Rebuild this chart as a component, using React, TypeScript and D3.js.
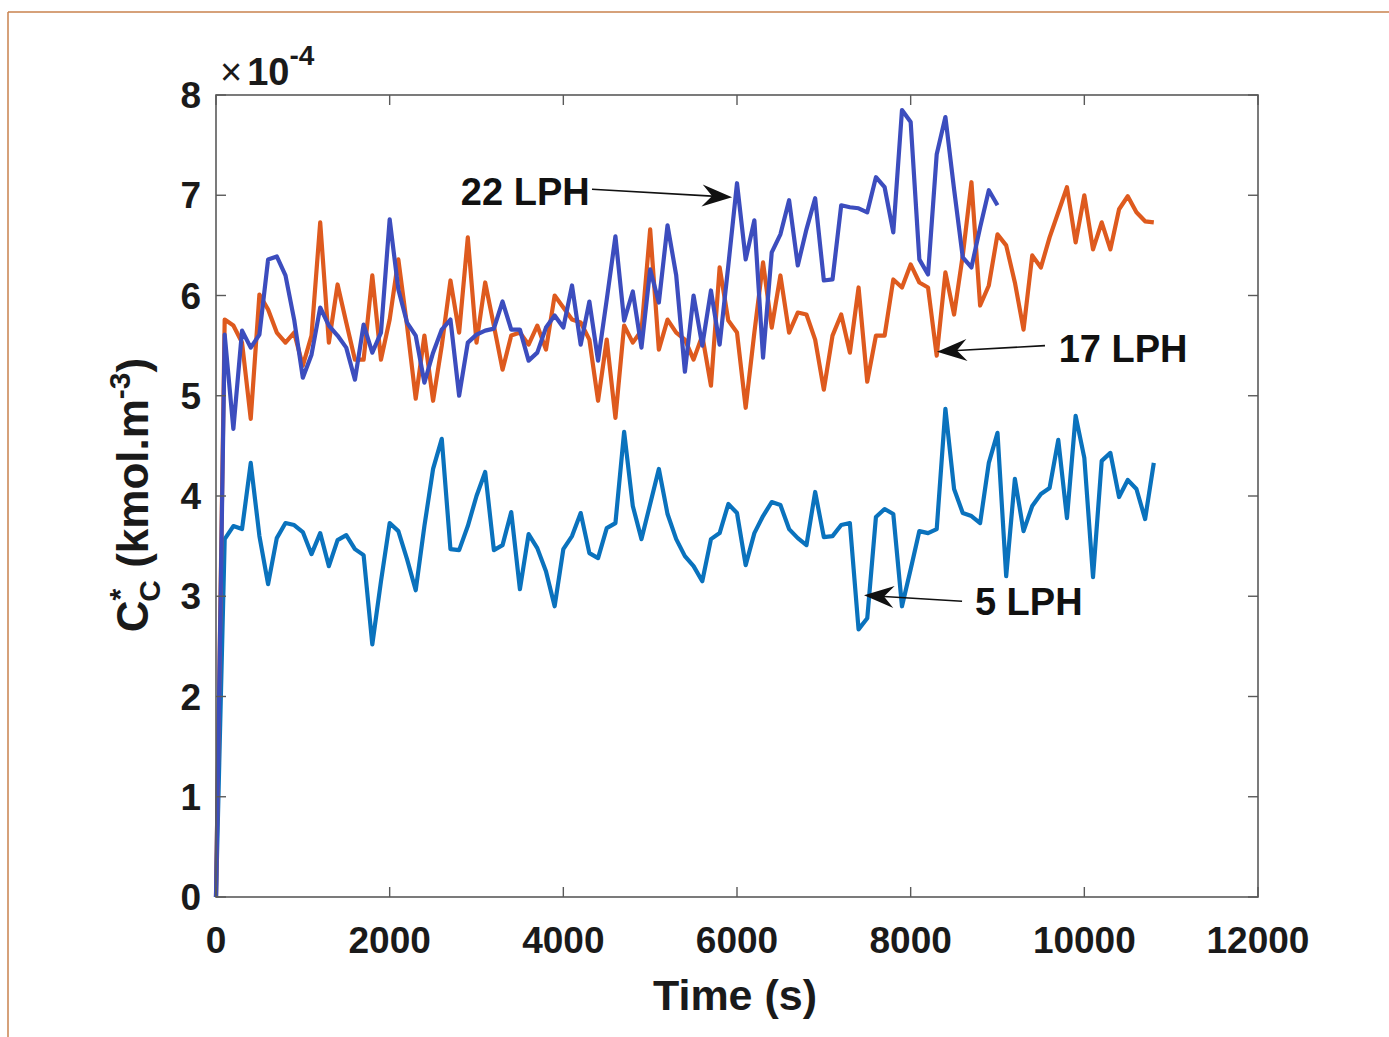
import React from "react";
import * as d3 from "d3";

// ---- data ----
const TIME_STEP = 100; // s between samples
const xTicks = [0, 2000, 4000, 6000, 8000, 10000, 12000];
const yTicks = [0, 1, 2, 3, 4, 5, 6, 7, 8];

// values in units of 1e-4 kmol.m^-3
const lph5 = [
  0, 3.57, 3.70, 3.67, 4.33, 3.60, 3.12, 3.58, 3.73, 3.71,
  3.64, 3.42, 3.63, 3.30, 3.56, 3.61, 3.47, 3.41, 2.52, 3.15,
  3.73, 3.65, 3.37, 3.06, 3.70, 4.27, 4.57, 3.47, 3.46, 3.70,
  4.00, 4.24, 3.46, 3.51, 3.84, 3.07, 3.62, 3.48, 3.25, 2.90,
  3.47, 3.60, 3.83, 3.43, 3.38, 3.68, 3.73, 4.64, 3.90, 3.57,
  3.92, 4.27, 3.82, 3.57, 3.40, 3.30, 3.15, 3.57, 3.63, 3.92,
  3.83, 3.31, 3.63, 3.80, 3.94, 3.91, 3.67, 3.58, 3.51, 4.04,
  3.59, 3.60, 3.71, 3.73, 2.67, 2.78, 3.79, 3.87, 3.82, 2.90,
  3.27, 3.65, 3.63, 3.67, 4.87, 4.07, 3.83, 3.80, 3.73, 4.33,
  4.63, 3.20, 4.17, 3.65, 3.90, 4.02, 4.08, 4.56, 3.78, 4.80,
  4.38, 3.19, 4.35, 4.43, 3.99, 4.16, 4.07, 3.77, 4.33,
];

const lph17 = [
  0, 5.76, 5.70, 5.53, 4.77, 6.01, 5.86, 5.63, 5.53, 5.63,
  5.30, 5.60, 6.73, 5.53, 6.11, 5.73, 5.36, 5.36, 6.20, 5.36,
  5.76, 6.36, 5.70, 4.97, 5.60, 4.95, 5.50, 6.15, 5.63, 6.58,
  5.53, 6.13, 5.70, 5.26, 5.60, 5.63, 5.51, 5.70, 5.46, 6.00,
  5.88, 5.76, 5.73, 5.56, 4.95, 5.56, 4.78, 5.70, 5.53, 5.65,
  6.66, 5.46, 5.76, 5.63, 5.56, 5.36, 5.60, 5.10, 6.28, 5.75,
  5.63, 4.88, 5.63, 6.33, 5.68, 6.20, 5.63, 5.83, 5.81, 5.56,
  5.06, 5.60, 5.81, 5.43, 6.08, 5.14, 5.60, 5.60, 6.16, 6.08,
  6.31, 6.13, 6.08, 5.40, 6.23, 5.81, 6.40, 7.13, 5.90, 6.10,
  6.61, 6.50, 6.13, 5.66, 6.40, 6.28, 6.58, 6.83, 7.08, 6.53,
  7.00, 6.46, 6.73, 6.46, 6.86, 6.99, 6.83, 6.74, 6.73,
];

const lph22 = [
  0, 5.61, 4.67, 5.65, 5.48, 5.61, 6.36, 6.39, 6.20, 5.76,
  5.18, 5.41, 5.88, 5.70, 5.60, 5.48, 5.16, 5.71, 5.43, 5.63,
  6.76, 6.06, 5.73, 5.60, 5.13, 5.43, 5.66, 5.76, 5.00, 5.53,
  5.61, 5.65, 5.67, 5.94, 5.66, 5.66, 5.35, 5.43, 5.68, 5.80,
  5.68, 6.10, 5.51, 5.94, 5.35, 5.96, 6.59, 5.75, 6.04, 5.48,
  6.26, 5.93, 6.70, 6.20, 5.24, 6.00, 5.50, 6.05, 5.51, 6.30,
  7.12, 6.36, 6.75, 5.38, 6.43, 6.61, 6.95, 6.30, 6.66, 6.97,
  6.15, 6.16, 6.90, 6.88, 6.87, 6.83, 7.18, 7.08, 6.63, 7.85,
  7.73, 6.36, 6.21, 7.41, 7.78, 7.06, 6.38, 6.28, 6.68, 7.05,
  6.90,
];

const seriesNames = ["5 LPH", "17 LPH", "22 LPH"];
const seriesColors = ["#0A72BD", "#DE5A1E", "#3C4DBE"];

// annotations: label, text anchor (t, value), arrow tail, arrow tip (data coords)
const annLabels = ["22 LPH", "17 LPH", "5 LPH"];
const annText = [[2820, 6.90], [9705, 5.34], [8740, 2.81]];
const annTail = [[4330, 7.06], [9547, 5.50], [8592, 2.95]];
const annTip = [[5943, 6.98], [8303, 5.44], [7463, 3.01]];

const W = 1389;
const H = 1037;
const M = { left: 216, right: 1258, top: 95, bottom: 897 };
const FONT = "'Liberation Sans', Arial, Helvetica, sans-serif";

export default function App() {
  const x = d3.scaleLinear().domain([0, 12000]).range([M.left, M.right]);
  const y = d3.scaleLinear().domain([0, 8]).range([M.bottom, M.top]);
  const line = d3
    .line<number>()
    .x((_, i) => x(i * TIME_STEP))
    .y((d) => y(d));
  const allSeries = [lph5, lph17, lph22];
  const tickLen = 10;
  const axisColor = "#5a5a5a";

  const arrowHead = (tail: number[], tip: number[]) => {
    const x1 = x(tail[0]), y1 = y(tail[1]);
    const x2 = x(tip[0]), y2 = y(tip[1]);
    const ang = Math.atan2(y2 - y1, x2 - x1);
    const L = 30, Wd = 11, notch = 20;
    const ca = Math.cos(ang), sa = Math.sin(ang);
    const p = (a: number, b: number) => [x2 + a * ca - b * sa, y2 + a * sa + b * ca];
    const pts = [p(0, 0), p(-L, -Wd), p(-notch, 0), p(-L, Wd)];
    return {
      line: [x1, y1, x2 - notch * ca, y2 - notch * sa],
      head: pts.map((q) => q.join(",")).join(" "),
    };
  };

  return (
    <svg
      width={W}
      height={H}
      style={{ position: "absolute", left: 0, top: 0, background: "#fff" }}
      fontFamily={FONT}
    >
      {/* outer frame */}
      <line x1={8} y1={12} x2={W} y2={12} stroke="#C8824E" strokeWidth={1.5} />
      <line x1={8} y1={12} x2={8} y2={H} stroke="#C8824E" strokeWidth={1.5} />

      {/* series */}
      {allSeries.map((s, i) => (
        <path
          key={seriesNames[i]}
          d={line(s) || ""}
          fill="none"
          stroke={seriesColors[i]}
          strokeWidth={4.2}
          strokeLinejoin="round"
        />
      ))}

      {/* box */}
      <rect
        x={M.left}
        y={M.top}
        width={M.right - M.left}
        height={M.bottom - M.top}
        fill="none"
        stroke={axisColor}
        strokeWidth={1.6}
      />

      {/* x ticks */}
      {xTicks.map((t) => (
        <g key={"x" + t}>
          <line x1={x(t)} x2={x(t)} y1={M.bottom} y2={M.bottom - tickLen} stroke={axisColor} strokeWidth={1.4} />
          <line x1={x(t)} x2={x(t)} y1={M.top} y2={M.top + tickLen} stroke={axisColor} strokeWidth={1.4} />
          <text x={x(t)} y={953} textAnchor="middle" fontSize={37} fontWeight="bold" fill="#1a1a1a">
            {t}
          </text>
        </g>
      ))}

      {/* y ticks */}
      {yTicks.map((v) => (
        <g key={"y" + v}>
          <line x1={M.left} x2={M.left + tickLen} y1={y(v)} y2={y(v)} stroke={axisColor} strokeWidth={1.4} />
          <line x1={M.right} x2={M.right - tickLen} y1={y(v)} y2={y(v)} stroke={axisColor} strokeWidth={1.4} />
          <text x={201} y={y(v) + 13} textAnchor="end" fontSize={37} fontWeight="bold" fill="#1a1a1a">
            {v}
          </text>
        </g>
      ))}

      {/* exponent */}
      <text x={220} y={85} fill="#1a1a1a">
        <tspan fontWeight="normal" fontSize={38}>×</tspan>
        <tspan fontWeight="bold" fontSize={38} dx={5}>10</tspan>
        <tspan fontWeight="bold" fontSize={28} dy={-20}>-4</tspan>
      </text>

      {/* axis labels */}
      <text x={735} y={1010} textAnchor="middle" fontSize={43} fontWeight="bold" fill="#1a1a1a">
        Time (s)
      </text>
      <text
        transform="translate(148,495) rotate(-90)"
        textAnchor="middle"
        fontSize={44}
        fontWeight="bold"
        fill="#1a1a1a"
      >
        C
        <tspan fontSize={30} dy={-18}>*</tspan>
        <tspan fontSize={30} dx={-13} dy={30}>C</tspan>
        <tspan dy={-12}> (kmol.m</tspan>
        <tspan fontSize={30} dy={-18}>-3</tspan>
        <tspan dy={18}>)</tspan>
      </text>

      {/* annotations */}
      {annLabels.map((lab, i) => {
        const a = arrowHead(annTail[i], annTip[i]);
        return (
          <g key={lab}>
            <text x={x(annText[i][0])} y={y(annText[i][1])} fontSize={38} fontWeight="bold" fill="#111">
              {lab}
            </text>
            <line x1={a.line[0]} y1={a.line[1]} x2={a.line[2]} y2={a.line[3]} stroke="#111" strokeWidth={1.6} />
            <polygon points={a.head} fill="#111" />
          </g>
        );
      })}
    </svg>
  );
}
